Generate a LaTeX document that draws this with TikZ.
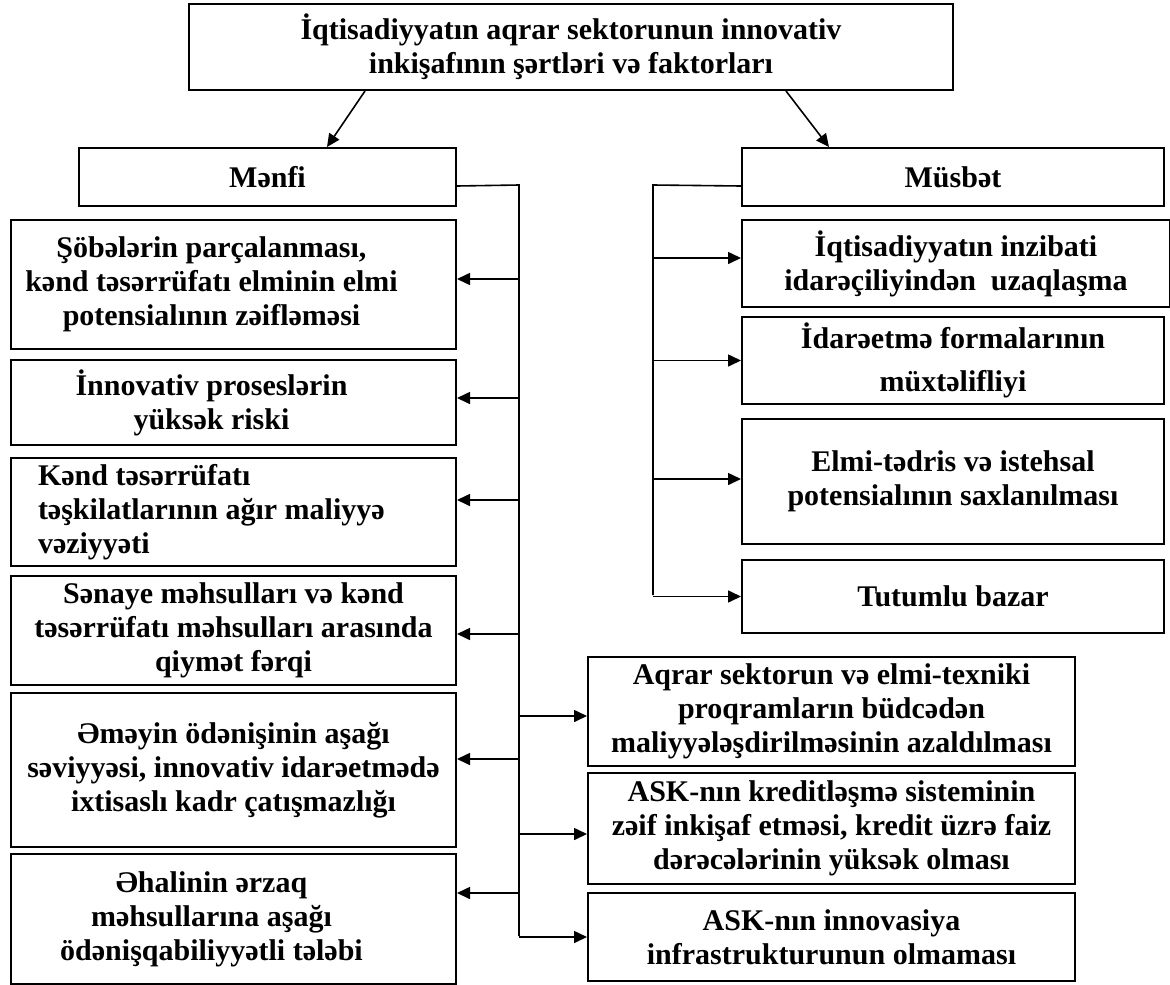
\documentclass[tikz,border=0pt]{standalone}
\usepackage{fontspec}
\setmainfont{Liberation Serif}
\usepackage{tikz}
\usetikzlibrary{arrows.meta, positioning}

% text set a little left of the box centre
\newcommand{\shiftedtext}[1]{\parbox{401pt}{\centering #1}\hspace*{44pt}}

\begin{document}
\begin{tikzpicture}[
    x=1pt, y=-1pt,
    box/.style={rectangle, draw, line width=2pt, inner sep=0pt, align=center,
                anchor=north west, font=\bfseries\fontsize{30}{34}\selectfont},
    arrow/.style={-{Triangle[length=13pt, width=12pt]}, line width=1.6pt},
    link/.style={line width=1.6pt}
]
    \useasboundingbox (0,0) rectangle (1170,985);
    % Nodes
    \node[box, minimum width=764pt, minimum height=86pt] (cond) at (188,3)
        {İqtisadiyyatın aqrar sektorunun innovativ\\ inkişafının şərtləri və faktorları};
    \node[box, minimum width=377pt, minimum height=58pt] (negative) at (78,147) {Mənfi};
    \node[box, minimum width=422pt, minimum height=58pt] (positive) at (741,147) {Müsbət};

    \node[box, minimum width=445pt, minimum height=129pt] (neg1) at (10,219)
        {\shiftedtext{Şöbələrin parçalanması,\\ kənd təsərrüfatı elminin elmi\\ potensialının zəifləməsi}};
    \node[box, minimum width=445pt, minimum height=85pt] (neg2) at (10,359)
        {\shiftedtext{İnnovativ proseslərin\\ yüksək riski}};
    \node[box, minimum width=445pt, minimum height=108pt, align=flush left, text width=391pt] (neg3) at (10,457)
        {Kənd təsərrüfatı\\ təşkilatlarının ağır maliyyə\\ vəziyyəti};
    \node[box, minimum width=445pt, minimum height=109pt] (neg4) at (10,575)
        {Sənaye məhsulları və kənd\\ təsərrüfatı məhsulları arasında\\ qiymət fərqi};
    \node[box, minimum width=445pt, minimum height=154pt] (neg5) at (10,692)
        {Əməyin ödənişinin aşağı\\ səviyyəsi, innovativ idarəetmədə\\ ixtisaslı kadr çatışmazlığı};
    \node[box, minimum width=445pt, minimum height=130pt] (neg6) at (10,853)
        {\shiftedtext{Əhalinin ərzaq\\ məhsullarına aşağı\\ ödənişqabiliyyətli tələbi}};

    \node[box, minimum width=428pt, minimum height=87pt] (pos1) at (741,219)
        {İqtisadiyyatın inzibati\\ idarəçiliyindən\ \ uzaqlaşma};
    \node[box, minimum width=422pt, minimum height=87pt] (pos2) at (741,316)
        {İdarəetmə formalarının\\[9pt] müxtəlifliyi};
    \node[box, minimum width=422pt, minimum height=125pt] (pos3) at (741,418)
        {Elmi-tədris və istehsal\\ potensialının saxlanılması};
    \node[box, minimum width=422pt, minimum height=73pt] (pos4) at (741,559)
        {Tutumlu bazar};

    \node[box, minimum width=487pt, minimum height=109pt] (low1) at (587,656)
        {Aqrar sektorun və elmi-texniki\\ proqramların büdcədən\\ maliyyələşdirilməsinin azaldılması};
    \node[box, minimum width=487pt, minimum height=111pt] (low2) at (587,772)
        {ASK-nın kreditləşmə sisteminin\\ zəif inkişaf etməsi, kredit üzrə faiz\\ dərəcələrinin yüksək olması};
    \node[box, minimum width=487pt, minimum height=88pt] (low3) at (587,892)
        {ASK-nın innovasiya\\ infrastrukturunun olmaması};

    % Trunks
    \coordinate (ltop) at (519,185);
    \coordinate (lbot) at (519,936);
    \coordinate (rtop) at (653,185);
    \coordinate (rbot) at (653,595);

    % Arrows
    \draw[arrow] ([xshift=177pt]cond.south west) -- ([xshift=249pt]negative.north west);
    \draw[arrow] ([xshift=598pt]cond.south west) -- ([xshift=88pt]positive.north west);

    \draw[link] ([yshift=-9pt]negative.east) -- (ltop) -- (lbot);
    \draw[link] ([yshift=-9pt]positive.west) -- (rtop) -- (rbot);

    \foreach \n/\s in {neg1/5.5, neg2/4.5, neg3/12, neg4/-3.5, neg5/11, neg6/26}
        \draw[arrow] ([yshift=\s pt]\n.east -| ltop) -- ([yshift=\s pt]\n.east);
    \foreach \n/\s in {pos1/5.5, pos2/0, pos3/2.5, pos4/0}
        \draw[arrow] ([yshift=\s pt]\n.west -| rtop) -- ([yshift=\s pt]\n.west);
    \foreach \n/\s in {low1/-4.5, low2/-5.5, low3/0}
        \draw[arrow] ([yshift=\s pt]\n.west -| ltop) -- ([yshift=\s pt]\n.west);
\end{tikzpicture}
\end{document}
